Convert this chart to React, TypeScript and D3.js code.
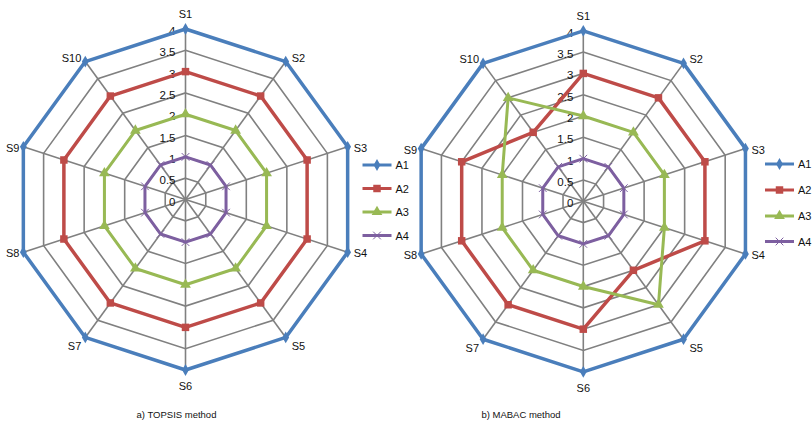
import React from 'react';
import * as d3 from 'd3';

const categories = ['S1', 'S2', 'S3', 'S4', 'S5', 'S6', 'S7', 'S8', 'S9', 'S10'];
const seriesNames = ['A1', 'A2', 'A3', 'A4'];
const tickValues = [0, 0.5, 1, 1.5, 2, 2.5, 3, 3.5, 4];
const tickLabels = ['0', '0.5', '1', '1.5', '2', '2.5', '3', '3.5', '4'];

const topsisA1 = [4, 4, 4, 4, 4, 4, 4, 4, 4, 4];
const topsisA2 = [3, 3, 3, 3, 3, 3, 3, 3, 3, 3];
const topsisA3 = [2, 2, 2, 2, 2, 2, 2, 2, 2, 2];
const topsisA4 = [1, 1, 1, 1, 1, 1, 1, 1, 1, 1];

const mabacA1 = [4, 4, 4, 4, 4, 4, 4, 4, 4, 4];
const mabacA2 = [3, 3, 3, 3, 2, 3, 3, 3, 3, 2];
const mabacA3 = [2, 2, 2, 2, 3, 2, 2, 2, 2, 3];
const mabacA4 = [1, 1, 1, 1, 1, 1, 1, 1, 1, 1];

const captions = ['a) TOPSIS method', 'b) MABAC method'];

const colors = ['#4A7EBB', '#BE4B48', '#98B954', '#7D5FA0'];
const symbols = [d3.symbolDiamond, d3.symbolSquare, d3.symbolTriangle, d3.symbolTimes];
const symbolSizes = [40, 56, 50, 40];
const FONT = '"Liberation Sans", Arial, sans-serif';

const charts = [
  { cx: 185.5, cy: 199.5, data: [topsisA1, topsisA2, topsisA3, topsisA4], legendX: 362.5, legendY: [165, 188.5, 212, 235.5], capX: 176.5 },
  { cx: 583.3, cy: 201.3, data: [mabacA1, mabacA2, mabacA3, mabacA4], legendX: 765, legendY: [164, 190, 216, 241.5], capX: 521 },
];

const R = 170.5;
const rScale = d3.scaleLinear().domain([0, 4]).range([0, R]);
const angle = (i: number) => (i / categories.length) * Math.PI * 2;

function Marker({ k, x, y }: { k: number; x: number; y: number }) {
  const path = d3.symbol().type(symbols[k]).size(symbolSizes[k])() as string;
  if (k === 3) {
    return <path d={path} transform={`translate(${x},${y})`} fill="none" stroke={colors[k]} strokeWidth={1} />;
  }
  return <path d={path} transform={`translate(${x},${y})`} fill={colors[k]} />;
}

function Radar({ chart, idx }: { chart: typeof charts[0]; idx: number }) {
  const { cx, cy } = chart;
  const ringLine = d3.lineRadial<number>().angle((_, i) => angle(i)).radius(d => rScale(d)).curve(d3.curveLinearClosed);
  const pt = (i: number, v: number) => [cx + rScale(v) * Math.sin(angle(i)), cy - rScale(v) * Math.cos(angle(i))];
  return (
    <g>
      <g transform={`translate(${cx},${cy})`}>
        {tickValues.slice(1).map((t, j) => (
          <path key={j} d={ringLine(categories.map(() => t)) as string} fill="none" stroke="#808080" strokeWidth={1.6} />
        ))}
        {categories.map((_, i) => {
          const a = angle(i);
          return <line key={i} x1={0} y1={0} x2={rScale(4) * Math.sin(a)} y2={-rScale(4) * Math.cos(a)} stroke="#808080" strokeWidth={1.6} />;
        })}
      </g>
      {tickValues.map((t, j) => (
        <text key={j} x={cx - 10} y={cy - rScale(t) + 2} textAnchor="end" dominantBaseline="central" fontFamily={FONT} fontSize={11.5} fill="#111">
          {tickLabels[j]}
        </text>
      ))}
      {categories.map((c, i) => {
        const [vx, vy] = pt(i, 4);
        const s = Math.sin(angle(i));
        const co = Math.cos(angle(i));
        let x = vx, y = vy, anchor = 'middle';
        if (Math.abs(s) < 0.1) {
          y = co > 0 ? vy - 15 : vy + 16;
        } else {
          anchor = s > 0 ? 'start' : 'end';
          x = vx + (s > 0 ? 6 : -4);
          y = vy + (co > 0.5 ? -4 : co < -0.5 ? 9 : 1);
        }
        return (
          <text key={c} x={x} y={y} textAnchor={anchor} dominantBaseline="central" fontFamily={FONT} fontSize={11} fill="#111">
            {c}
          </text>
        );
      })}
      {chart.data.map((vals, k) => (
        <g key={k}>
          <path d={ringLine(vals) as string} transform={`translate(${cx},${cy})`} fill="none" stroke={colors[k]} strokeWidth={k < 2 ? 3.5 : 3} strokeLinejoin="round" />
          {vals.map((v, i) => {
            const [x, y] = pt(i, v);
            return <Marker key={i} k={k} x={x} y={y} />;
          })}
        </g>
      ))}
      {seriesNames.map((n, k) => (
        <g key={n}>
          <line x1={chart.legendX} x2={chart.legendX + 29} y1={chart.legendY[k]} y2={chart.legendY[k]} stroke={colors[k]} strokeWidth={3} />
          <Marker k={k} x={chart.legendX + 14.5} y={chart.legendY[k]} />
          <text x={chart.legendX + 33} y={chart.legendY[k]} dominantBaseline="central" fontFamily={FONT} fontSize={11} fill="#111">
            {n}
          </text>
        </g>
      ))}
      <text x={chart.capX} y={414} textAnchor="middle" dominantBaseline="central" fontFamily={FONT} fontSize={9.5} fill="#111">
        {captions[idx]}
      </text>
    </g>
  );
}

export default function App() {
  return (
    <svg width={812} height={421} style={{ position: 'absolute', left: 0, top: 0, background: '#fff' }}>
      <rect width={812} height={421} fill="#fff" />
      {charts.map((c, i) => (
        <Radar key={i} chart={c} idx={i} />
      ))}
    </svg>
  );
}
